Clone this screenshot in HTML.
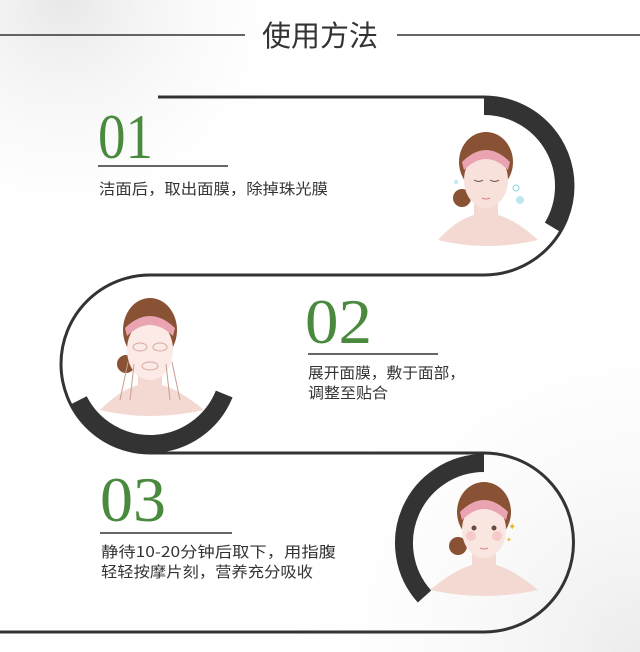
<!DOCTYPE html>
<html><head><meta charset="utf-8">
<style>
html,body{margin:0;padding:0;background:#fff;}
svg{display:block;}
text{font-family:"Liberation Sans","Noto Sans CJK SC",sans-serif;}
.num{font-family:"Liberation Serif",serif;fill:#4a8a3e;font-size:64px;}
.desc{font-size:15px;fill:#333;font-family:"Noto Sans CJK SC","Liberation Sans",sans-serif;}
</style></head>
<body>
<svg width="640" height="652" viewBox="0 0 640 652">
<defs>
<radialGradient id="tl" cx="0.1" cy="0" r="0.4"><stop offset="0" stop-color="#e8e8e8"/><stop offset="1" stop-color="#fff" stop-opacity="0"/></radialGradient>
<radialGradient id="br" cx="1" cy="1" r="0.6"><stop offset="0" stop-color="#ececec"/><stop offset="1" stop-color="#fff" stop-opacity="0"/></radialGradient>
</defs>
<rect width="640" height="652" fill="#fff"/>
<rect width="640" height="652" fill="url(#tl)"/>
<rect width="640" height="652" fill="url(#br)"/>

<g>
<line x1="0" y1="35" x2="245" y2="35" stroke="#333" stroke-width="1.5"/>
<line x1="397" y1="35" x2="640" y2="35" stroke="#333" stroke-width="1.5"/>
<text x="320" y="46" text-anchor="middle" font-size="29" fill="#333">使用方法</text>
</g>

<g fill="none" stroke="#333" stroke-width="3">
<line x1="158" y1="97" x2="484" y2="97"/>
<path d="M484 97 A89 89 0 0 1 484 275"/>
<line x1="150" y1="275" x2="484" y2="275"/>
<path d="M150 275 A89 89 0 0 0 150 453"/>
<line x1="150" y1="453" x2="484" y2="453"/>
<path d="M484 453 A89 89 0 0 1 484 632"/>
<line x1="0" y1="632" x2="484" y2="632"/>
</g>

<g fill="none" stroke="#333" stroke-width="18">
<path d="M484 106 A80 80 0 0 1 552.6 227.2"/>
<path d="M224.2 394 A80 80 0 0 1 78.7 400.3"/>
<path d="M484 463 A80 80 0 0 0 424.5 596.5"/>
</g>

<g>
<text class="num" x="98" y="158" textLength="55" lengthAdjust="spacingAndGlyphs">01</text>
<line x1="98" y1="166" x2="228" y2="166" stroke="#333" stroke-width="1.5"/>
<text class="desc" x="99" y="194" textLength="229" lengthAdjust="spacingAndGlyphs">洁面后，取出面膜，除掉珠光膜</text>
</g>
<g>
<text class="num" x="305" y="343" textLength="67" lengthAdjust="spacingAndGlyphs">02</text>
<line x1="308" y1="354" x2="438" y2="354" stroke="#333" stroke-width="1.5"/>
<text class="desc" x="308" y="378" textLength="157" lengthAdjust="spacingAndGlyphs">展开面膜，敷于面部，</text>
<text class="desc" x="308" y="398" textLength="80" lengthAdjust="spacingAndGlyphs">调整至贴合</text>
</g>
<g>
<text class="num" x="100" y="521" textLength="66" lengthAdjust="spacingAndGlyphs">03</text>
<line x1="100" y1="533" x2="232" y2="533" stroke="#333" stroke-width="1.5"/>
<text class="desc" x="101" y="557" textLength="235" lengthAdjust="spacingAndGlyphs">静待10-20分钟后取下，用指腹</text>
<text class="desc" x="101" y="577" textLength="212" lengthAdjust="spacingAndGlyphs">轻轻按摩片刻，营养充分吸收</text>
</g>

<g transform="translate(486,190)">
<path d="M-48 50 Q-30 30 -12 25 L-12 10 L12 10 L12 25 Q30 30 52 50 Q0 62 -48 50Z" fill="#f3d9d2"/>
<circle cx="-24" cy="8" r="9" fill="#8a5234"/>
<ellipse cx="0" cy="-28" rx="27" ry="30" fill="#8a5234"/>
<ellipse cx="0" cy="-10" rx="22" ry="28" fill="#f7e1da"/>
<path d="M-24 -28 Q0 -52 24 -28 L22 -20 Q0 -42 -22 -20Z" fill="#eaa3b0"/>
<path d="M-12 -10 q5 3 9 0 M4 -10 q5 3 9 0" stroke="#6b4a3a" fill="none"/>
<path d="M-4 8 q4 2 8 0" stroke="#d98080" fill="none"/>
<circle cx="30" cy="-2" r="3" fill="none" stroke="#8cd0e0"/><circle cx="34" cy="10" r="4" fill="#bfe6ef"/><circle cx="-30" cy="-8" r="2" fill="#bfe6ef"/>
</g>
<g transform="translate(150,350)">
<path d="M-50 60 Q-30 40 -12 35 L-12 20 L12 20 L12 35 Q30 40 54 60 Q0 72 -50 60Z" fill="#f3d9d2"/>
<circle cx="-24" cy="14" r="9" fill="#8a5234"/>
<ellipse cx="0" cy="-20" rx="27" ry="32" fill="#8a5234"/>
<ellipse cx="0" cy="0" rx="23" ry="30" fill="#fbeae6"/>
<path d="M-25 -22 Q0 -46 25 -22 L23 -14 Q0 -36 -23 -14Z" fill="#eaa3b0"/>
<ellipse cx="-10" cy="-3" rx="7" ry="4" fill="none" stroke="#d9a8a0"/><ellipse cx="10" cy="-3" rx="7" ry="4" fill="none" stroke="#d9a8a0"/>
<ellipse cx="0" cy="16" rx="8" ry="4" fill="none" stroke="#d9a8a0"/>
<path d="M-30 50 L-22 12 M-20 50 L-16 14 M30 50 L22 12 M20 50 L16 14" stroke="#c99c90" fill="none"/>
</g>
<g transform="translate(484,540)">
<path d="M-54 50 Q-30 30 -12 25 L-12 10 L12 10 L12 25 Q30 30 54 50 Q0 62 -54 50Z" fill="#f3d9d2"/>
<circle cx="-26" cy="6" r="9" fill="#8a5234"/>
<ellipse cx="0" cy="-28" rx="27" ry="30" fill="#8a5234"/>
<ellipse cx="0" cy="-10" rx="22" ry="28" fill="#f9e6e0"/>
<path d="M-24 -28 Q0 -52 24 -28 L22 -20 Q0 -42 -22 -20Z" fill="#eaa3b0"/>
<circle cx="-10" cy="-12" r="2.5" fill="#6b4a3a"/><circle cx="10" cy="-12" r="2.5" fill="#6b4a3a"/>
<circle cx="-13" cy="-4" r="5" fill="#f2b7b7" opacity="0.6"/><circle cx="13" cy="-4" r="5" fill="#f2b7b7" opacity="0.6"/>
<path d="M-4 8 q4 2 8 0" stroke="#d98080" fill="none"/>
<text x="24" y="-10" font-size="10" fill="#e6b830">✦</text><text x="22" y="2" font-size="7" fill="#e6b830">✦</text>
</g>
</svg>
</body></html>
